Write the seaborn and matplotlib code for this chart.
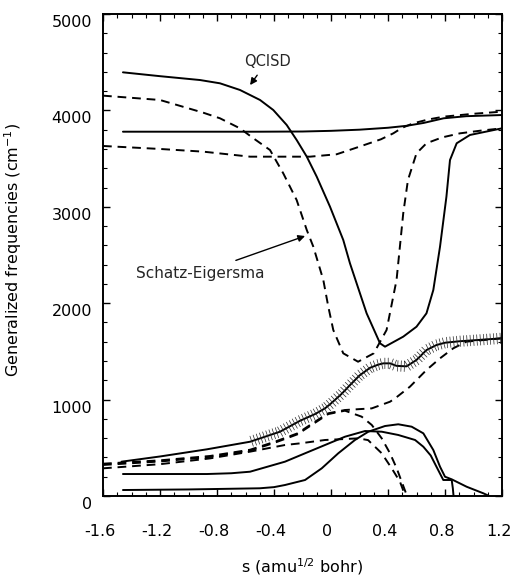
import numpy as np
import pandas as pd
import matplotlib
matplotlib.use("Agg")
import matplotlib.pyplot as plt
import matplotlib.transforms as mtransforms
from matplotlib.patheffects import TickedStroke
from matplotlib.ticker import MultipleLocator
import seaborn as sns

# ---------------- data ----------------
qcisd_x = [-1.46, -1.2, -0.919, -0.779, -0.639, -0.498, -0.405, -0.311, -0.241, -0.17, -0.1,
           -0.007, 0.086, 0.133, 0.25, 0.344, 0.379, 0.507, 0.60, 0.67, 0.718, 0.765, 0.81,
           0.835, 0.882, 0.975, 1.2]
qcisd_y = [4395, 4355, 4315, 4281, 4212, 4108, 4004, 3849, 3693, 3520, 3312,
           3001, 2656, 2414, 1895, 1584, 1549, 1653, 1756, 1895, 2137, 2586, 3105,
           3485, 3659, 3745, 3814]

flat_x = [-1.46, -1.0, -0.5, -0.2, 0.0, 0.2, 0.4, 0.53, 0.65, 0.79, 0.95, 1.2]
flat_y = [3779, 3779, 3779, 3781, 3788, 3800, 3820, 3840, 3870, 3918, 3940, 3952]

se1_x = [-1.6, -1.2, -0.896, -0.779, -0.639, -0.545, -0.428, -0.335, -0.241, -0.17, -0.124,
         -0.054, -0.019, 0.016, 0.086, 0.19, 0.3, 0.39, 0.46, 0.507, 0.54, 0.6, 0.67, 0.78,
         0.905, 1.05, 1.2]
se1_y = [4153, 4108, 3976, 3918, 3814, 3711, 3589, 3347, 3070, 2759, 2586,
         2241, 1964, 1722, 1480, 1393, 1480, 1722, 2241, 2933, 3278, 3555, 3659, 3720,
         3762, 3790, 3814]

se2_x = [-1.6, -1.2, -0.896, -0.568, -0.335, -0.147, 0.04, 0.2, 0.35, 0.437, 0.5, 0.577,
         0.68, 0.79, 1.0, 1.2]
se2_y = [3631, 3600, 3572, 3520, 3520, 3520, 3545, 3624, 3700, 3762, 3820, 3866,
         3905, 3935, 3965, 3987]

hatch_x = [-1.47, -1.2, -0.872, -0.568, -0.358, -0.218, -0.112, -0.042, 0.0, 0.075, 0.133,
           0.2, 0.274, 0.33, 0.367, 0.414, 0.46, 0.53, 0.6, 0.67, 0.74, 0.8, 0.9, 1.0, 1.2]
hatch_y = [356, 410, 484, 563, 667, 780, 850, 909, 960, 1060, 1150,
           1250, 1330, 1362, 1376, 1376, 1350, 1345, 1411, 1514, 1566, 1590, 1605, 1615, 1636]

dup_x = [-1.6, -1.2, -0.849, -0.568, -0.4, -0.235, -0.112, -0.019, 0.098, 0.286, 0.414,
         0.45, 0.554, 0.67, 0.765, 0.858, 0.95, 1.2]
dup_y = [335, 370, 415, 480, 560, 650, 771, 858, 892, 909, 978,
         1013, 1134, 1307, 1428, 1532, 1601, 1636]

dmid_x = [-1.6, -1.2, -0.849, -0.568, -0.4, -0.235, -0.112, -0.019, 0.098, 0.215, 0.286,
          0.356, 0.414, 0.461, 0.496, 0.531, 0.54]
dmid_y = [322, 358, 405, 470, 550, 640, 760, 850, 885, 823, 737,
          598, 443, 287, 148, 10, 0]

dlow_x = [-1.6, -1.2, -0.849, -0.568, -0.323, -0.218, -0.042, 0.192, 0.26, 0.356, 0.426,
          0.484, 0.519, 0.525]
dlow_y = [287, 330, 390, 460, 529, 546, 581, 598, 580, 443, 287,
          148, 10, 0]

s1_x = [-1.46, -0.87, -0.7, -0.568, -0.323, -0.182, -0.042, 0.098, 0.239, 0.356, 0.472,
        0.59, 0.648, 0.7, 0.74, 0.788, 0.847, 0.855, 0.86]
s1_y = [228, 228, 236, 252, 356, 443, 529, 615, 674, 667, 633,
        581, 511, 420, 304, 166, 166, 80, 0]

s2_x = [-1.46, -1.0, -0.5, -0.4, -0.323, -0.182, -0.065, 0.051, 0.168, 0.262, 0.379, 0.472,
        0.566, 0.648, 0.718, 0.765, 0.80, 0.847, 0.952, 1.069, 1.11]
s2_y = [62, 68, 80, 92, 114, 166, 287, 443, 581, 667, 726, 744,
        719, 650, 477, 304, 200, 173, 96, 28, 0]

x_ticks = [-1.6, -1.2, -0.8, -0.4, 0, 0.4, 0.8, 1.2]
x_ticklabels = ["-1.6", "-1.2", "-0.8", "-0.4", "0", "0.4", "0.8", "1.2"]
y_ticks = [0, 1000, 2000, 3000, 4000, 5000]
y_ticklabels = ["0", "1000", "2000", "3000", "4000", "5000"]

# ---------------- figure ----------------
sns.set_theme(style="ticks")
plt.rcParams["font.family"] = ["DejaVu Sans"]
plt.rcParams["mathtext.fontset"] = "dejavusans"

fig = plt.figure(figsize=(5.13, 5.76), dpi=100)
ax = fig.add_axes([103 / 513, 80 / 576, 399 / 513, 482 / 576])

lw = 1.4
dash = (0, (4.5, 3))

def draw(xs, ys, style="-", **kw):
    df = pd.DataFrame({"x": xs, "y": ys})
    sns.lineplot(data=df, x="x", y="y", ax=ax, color="black", linewidth=lw,
                 linestyle=style, sort=False, estimator=None, **kw)

draw(qcisd_x, qcisd_y)
draw(flat_x, flat_y)
draw(se1_x, se1_y, dash)
draw(se2_x, se2_y, dash)
draw(hatch_x, hatch_y)
draw(dup_x, dup_y, dash)
draw(dmid_x, dmid_y, dash)
draw(dlow_x, dlow_y, dash)
draw(s1_x, s1_y)
draw(s2_x, s2_y)

# tick hatching on the marked curve (drawn only as path-effect ticks)
hx = [x for x in hatch_x if x >= -0.72]
hy = [y for x, y in zip(hatch_x, hatch_y) if x >= -0.72]
ax.plot(hx, hy, color="0.15", linewidth=0.5,
        path_effects=[TickedStroke(spacing=2.4, angle=90, length=1.6),
                      TickedStroke(spacing=2.4, angle=-90, length=1.6)])

ax.set_xlim(-1.6, 1.2)
ax.set_ylim(0, 5000)
ax.set_xticks(x_ticks)
ax.set_xticklabels(x_ticklabels)
ax.set_yticks(y_ticks)
ax.set_yticklabels(y_ticklabels)
ax.xaxis.set_minor_locator(MultipleLocator(0.1))
ax.yaxis.set_minor_locator(MultipleLocator(200))
ax.tick_params(which="both", direction="in", top=True, right=True, color="black",
               labelsize=11.5, labelcolor="black")
ax.tick_params(which="major", length=5, width=1.0)
ax.tick_params(which="minor", length=3, width=0.8)
ax.tick_params(axis="x", which="major", pad=20)
ax.tick_params(axis="y", which="major", pad=8)
for sp in ax.spines.values():
    sp.set_visible(True)
    sp.set_linewidth(1.4)
    sp.set_color("black")

ax.set_xlabel("s (amu$^{1/2}$ bohr)", fontsize=11.5, color="black")
ax.set_ylabel("Generalized frequencies (cm$^{-1}$)", fontsize=11.5, color="black")
ax.xaxis.set_label_coords(0.5, -0.1675)
ax.yaxis.set_label_coords(-0.198, 0.51)
ax.xaxis.label.set_verticalalignment("bottom")

# shift tick labels as in the reference
offx = mtransforms.ScaledTranslation(-3.5 / 100, 0, fig.dpi_scale_trans)
for lab in ax.get_xticklabels():
    lab.set_transform(lab.get_transform() + offx)
offy = mtransforms.ScaledTranslation(0, -7 / 100, fig.dpi_scale_trans)
for lab in ax.get_yticklabels():
    lab.set_transform(lab.get_transform() + offy)

# annotations
ax.annotate("QCISD", xy=(-0.568, 4263), xytext=(-0.446, 4512), fontsize=10.5,
            ha="center", va="center",
            arrowprops=dict(arrowstyle="-|>", color="black", lw=1.0,
                            shrinkA=3, shrinkB=0, mutation_scale=10))
ax.annotate("Schatz-Eigersma", xy=(-0.182, 2697), xytext=(-0.919, 2313), fontsize=11,
            ha="center", va="center",
            arrowprops=dict(arrowstyle="-|>", color="black", lw=1.0,
                            shrinkA=4, shrinkB=0, mutation_scale=10))

fig.savefig("out.png", dpi=100)
